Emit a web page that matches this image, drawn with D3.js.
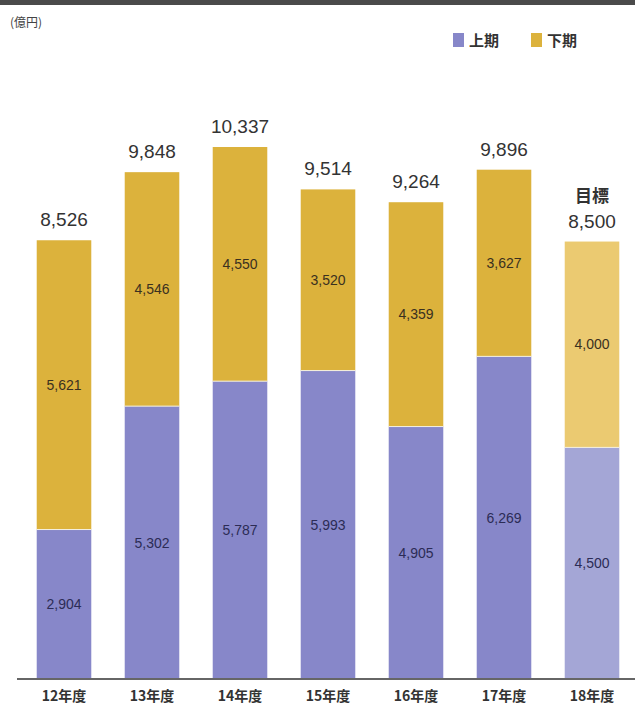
<!DOCTYPE html>
<html>
<head>
<meta charset="utf-8">
<script src="https://cdn.jsdelivr.net/npm/d3@7"></script>
<style>
  html, body { margin: 0; padding: 0; background: #fff; }
  svg { display: block; }
</style>
</head>
<body>
<svg id="chart" width="635" height="709"></svg>
<script>
// Fiscal years and half-year amounts (億円)
const categories = ["12年度", "13年度", "14年度", "15年度", "16年度", "17年度", "18年度"];
const firstHalf  = [2904, 5302, 5787, 5993, 4905, 6269, 4500];
const secondHalf = [5621, 4546, 4550, 3520, 4359, 3627, 4000];
const totals     = [8526, 9848, 10337, 9514, 9264, 9896, 8500];
const seriesNames = ["上期", "下期"];
const targetIndex = 6;          // the final year is a target
const targetLabel = "目標";
const unitLabel = "(億円)";

const svg = d3.select("#chart");
const fontCJK = "'Noto Sans CJK JP', 'Noto Sans', sans-serif";
const fontNum = "'Liberation Sans', Arial, sans-serif";

const colors = {
  first:  "#8787c9",
  second: "#dcb23c",
  firstTarget:  "#a4a6d6",
  secondTarget: "#ebca71"
};

// top rule
svg.append("rect").attr("x", 0).attr("y", 0).attr("width", 635).attr("height", 5).attr("fill", "#4a4a4a");

const baseY = 679;
const x = d3.scaleBand().domain(categories).range([20, 636]).paddingInner(0.38).paddingOuter(0.19);
const y = d3.scaleLinear().domain([0, 10337]).range([baseY, 147]);

const rows = categories.map((c, i) => ({
  cat: c, a: firstHalf[i], b: secondHalf[i], total: totals[i], target: i === targetIndex
}));

const g = svg.append("g");

// lower segment (上期)
g.selectAll("rect.first").data(rows).join("rect")
  .attr("class", "first")
  .attr("x", d => x(d.cat)).attr("width", x.bandwidth())
  .attr("y", d => y(d.a)).attr("height", d => y(0) - y(d.a))
  .attr("fill", d => d.target ? colors.firstTarget : colors.first);

// upper segment (下期)
g.selectAll("rect.second").data(rows).join("rect")
  .attr("class", "second")
  .attr("x", d => x(d.cat)).attr("width", x.bandwidth())
  .attr("y", d => y(d.a + d.b)).attr("height", d => y(d.a) - y(d.a + d.b))
  .attr("fill", d => d.target ? colors.secondTarget : colors.second);

// thin separator between segments
g.selectAll("line.sep").data(rows).join("line")
  .attr("x1", d => x(d.cat)).attr("x2", d => x(d.cat) + x.bandwidth())
  .attr("y1", d => y(d.a)).attr("y2", d => y(d.a))
  .attr("stroke", "#f4f0e0").attr("stroke-width", 1);

// segment values
const fmt = d3.format(",");
g.selectAll("text.va").data(rows).join("text")
  .attr("x", d => x(d.cat) + x.bandwidth() / 2)
  .attr("y", d => (y(0) + y(d.a)) / 2 + 5)
  .attr("text-anchor", "middle").attr("font-family", fontNum).attr("font-size", 14)
  .attr("fill", "#2c2c55").text(d => fmt(d.a));
g.selectAll("text.vb").data(rows).join("text")
  .attr("x", d => x(d.cat) + x.bandwidth() / 2)
  .attr("y", d => (y(d.a) + y(d.a + d.b)) / 2 + 5)
  .attr("text-anchor", "middle").attr("font-family", fontNum).attr("font-size", 14)
  .attr("fill", "#3a3020").text(d => fmt(d.b));

// totals above bars
g.selectAll("text.total").data(rows).join("text")
  .attr("x", d => x(d.cat) + x.bandwidth() / 2)
  .attr("y", d => y(d.total) - 14)
  .attr("text-anchor", "middle").attr("font-family", fontNum).attr("font-size", 19)
  .attr("fill", "#333").text(d => fmt(d.total));

// target caption
const tr = rows[targetIndex];
g.append("text")
  .attr("x", x(tr.cat) + x.bandwidth() / 2).attr("y", y(tr.total) - 40)
  .attr("text-anchor", "middle").attr("font-family", fontCJK).attr("font-weight", "bold")
  .attr("font-size", 17).attr("fill", "#333").text(targetLabel);

// baseline axis
const axis = d3.axisBottom(x).tickSize(0).tickPadding(12);
const ax = svg.append("g").attr("transform", `translate(0,${baseY})`).call(axis);
ax.select(".domain").attr("d", `M17,0H635`).attr("stroke", "#666").attr("stroke-width", 2);
ax.selectAll("text").attr("font-family", fontCJK).attr("font-weight", "bold")
  .attr("font-size", 14).attr("fill", "#333");

// unit label
svg.append("text").attr("x", 10).attr("y", 27).attr("font-family", fontCJK)
  .attr("font-size", 12).attr("fill", "#444").text(unitLabel);

// legend
const legend = svg.append("g").attr("transform", "translate(453,33)");
const legendItems = [
  { name: seriesNames[0], color: colors.first, dx: 0 },
  { name: seriesNames[1], color: colors.second, dx: 78 }
];
legendItems.forEach(it => {
  legend.append("rect").attr("x", it.dx).attr("y", 0).attr("width", 11).attr("height", 14).attr("fill", it.color);
  legend.append("text").attr("x", it.dx + 16).attr("y", 13).attr("font-family", fontCJK)
    .attr("font-weight", "bold").attr("font-size", 15).attr("fill", "#333").text(it.name);
});
</script>
</body>
</html>
